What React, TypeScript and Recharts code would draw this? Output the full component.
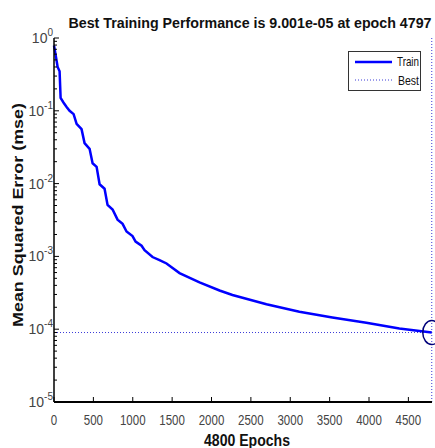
import React from 'react';
import { LineChart, Line, XAxis, YAxis, ReferenceLine, ReferenceDot } from 'recharts';

// training record (epoch, mse)
const epochs = [
  0, 25, 46, 71, 84, 120, 160, 198, 249, 287, 350, 388, 452, 490, 541, 579, 642, 680,
  744, 807, 871, 921, 997, 1036, 1112, 1150, 1251, 1340, 1429, 1594, 1848, 2102, 2266,
  2698, 3116, 3535, 3966, 4385, 4797,
];
const mse = [
  0.79, 0.55, 0.4, 0.35, 0.15, 0.13, 0.113, 0.1, 0.09, 0.066, 0.056, 0.036, 0.03, 0.019,
  0.017, 0.0098, 0.0085, 0.0051, 0.0044, 0.0032, 0.0028, 0.0022, 0.0019, 0.0016, 0.0014,
  0.00122, 0.00098, 0.00089, 0.0008, 0.00059, 0.00044, 0.00034, 0.000295, 0.00022,
  0.000174, 0.000145, 0.000123, 0.000102, 0.00009001,
];

const xTicks = [0, 500, 1000, 1500, 2000, 2500, 3000, 3500, 4000, 4500];
const yDecades = [-5, -4, -3, -2, -1, 0];
const bestEpoch = 4797;
const bestPerf = 9.001e-5;
const totalEpochs = 4800;

const titleText = 'Best Training Performance is 9.001e-05 at epoch 4797';
const xLabelText = '4800 Epochs';
const yLabelText = 'Mean Squared Error  (mse)';

const data = epochs.map((e, i) => ({ epoch: e, mse: mse[i] }));

// log axis: decades plus the 2..9 minor ticks
const yTicks: number[] = [];
yDecades.forEach((d) => {
  yTicks.push(Math.pow(10, d));
  if (d < 0) {
    for (let m = 2; m <= 9; m++) yTicks.push(m * Math.pow(10, d));
  }
});

const W = 435;
const H = 448;
const PLOT_LEFT = 54;
const PLOT_TOP = 38;
const PLOT_BOTTOM = 402;
const FONT = '"Liberation Sans", Arial, Helvetica, sans-serif';
const BLUE = '#0000ff';

const YTick = (props: any) => {
  const { y, payload } = props;
  const v = payload.value as number;
  const exp = Math.round(Math.log10(v));
  const major = Math.abs(Math.log10(v) - exp) < 1e-6;
  return (
    <g>
      <line x1={PLOT_LEFT} x2={PLOT_LEFT + (major ? 5 : 3)} y1={y} y2={y} stroke="#000" strokeWidth={1} />
      {major && (
        <text x={PLOT_LEFT - 1} y={y + 5} textAnchor="end" fontFamily={FONT} fill="#444">
          <tspan fontSize={14}>10</tspan>
          <tspan fontSize={10} dy={-7}>{String(exp)}</tspan>
        </text>
      )}
    </g>
  );
};

const XTick = (props: any) => {
  const { x, payload } = props;
  const label = String(payload.value);
  return (
    <g>
      <line x1={x} x2={x} y1={PLOT_BOTTOM} y2={PLOT_BOTTOM - 5} stroke="#000" strokeWidth={1} />
      <text
        x={x}
        y={PLOT_BOTTOM + 23}
        textAnchor="middle"
        fontFamily={FONT}
        fontSize={14}
        fill="#444"
        textLength={label.length * 6.4}
        lengthAdjust="spacingAndGlyphs"
      >
        {label}
      </text>
    </g>
  );
};

const BestCircle = (props: any) => (
  <ellipse cx={props.cx} cy={props.cy} rx={9} ry={12} fill="none" stroke="#00007a" strokeWidth={1.5} />
);

export default function App() {
  return (
    <div style={{ position: 'absolute', left: 0, top: 0, width: W, height: H, background: '#fff' }}>
      <LineChart
        width={W}
        height={H}
        data={data}
        margin={{ top: PLOT_TOP, right: W - 432, bottom: 0, left: 0 }}
      >
        <XAxis
          dataKey="epoch"
          type="number"
          domain={[0, totalEpochs]}
          ticks={xTicks}
          tick={XTick}
          tickLine={false}
          axisLine={{ stroke: '#000', strokeWidth: 2 }}
          height={H - PLOT_BOTTOM}
          interval={0}
        />
        <YAxis
          type="number"
          scale="log"
          domain={[1e-5, 1]}
          allowDataOverflow
          ticks={yTicks}
          tick={YTick}
          tickLine={false}
          axisLine={{ stroke: '#000', strokeWidth: 1.5 }}
          width={PLOT_LEFT}
          interval={0}
        />
        <ReferenceLine y={bestPerf} stroke="#3a3ad8" strokeWidth={1} strokeDasharray="1 2" />
        <ReferenceLine x={bestEpoch} stroke="#3a3ad8" strokeWidth={1} strokeDasharray="1 2" />
        <Line
          dataKey="mse"
          stroke={BLUE}
          strokeWidth={2.5}
          dot={false}
          type="linear"
          isAnimationActive={false}
        />
        <ReferenceDot x={bestEpoch} y={bestPerf} r={9} shape={BestCircle} />
      </LineChart>
      <svg
        width={W}
        height={H}
        style={{ position: 'absolute', left: 0, top: 0, pointerEvents: 'none' }}
      >
        <text
          x={250}
          y={28}
          textAnchor="middle"
          fontFamily={FONT}
          fontWeight="bold"
          fontSize={14}
          fill="#111"
          textLength={363}
          lengthAdjust="spacingAndGlyphs"
        >
          {titleText}
        </text>
        <text
          x={247}
          y={446}
          textAnchor="middle"
          fontFamily={FONT}
          fontWeight="bold"
          fontSize={16}
          fill="#111"
          textLength={86}
          lengthAdjust="spacingAndGlyphs"
        >
          {xLabelText}
        </text>
        <text
          transform="translate(23,215) rotate(-90)"
          textAnchor="middle"
          fontFamily={FONT}
          fontWeight="bold"
          fontSize={15}
          fill="#111"
          textLength={224}
          lengthAdjust="spacingAndGlyphs"
        >
          {yLabelText}
        </text>
        {/* legend */}
        <rect x={348.5} y={51.5} width={72} height={39} fill="#fff" stroke="#333" strokeWidth={1} />
        <line x1={355} x2={392} y1={62} y2={62} stroke={BLUE} strokeWidth={2.5} />
        <text x={419} y={66} textAnchor="end" fontFamily={FONT} fontSize={13} fill="#111" textLength={22} lengthAdjust="spacingAndGlyphs">
          Train
        </text>
        <line x1={355} x2={392} y1={80} y2={80} stroke="#3a3ad8" strokeWidth={1} strokeDasharray="1 2" />
        <text x={419} y={85} textAnchor="end" fontFamily={FONT} fontSize={13} fill="#111" textLength={21} lengthAdjust="spacingAndGlyphs">
          Best
        </text>
      </svg>
    </div>
  );
}
